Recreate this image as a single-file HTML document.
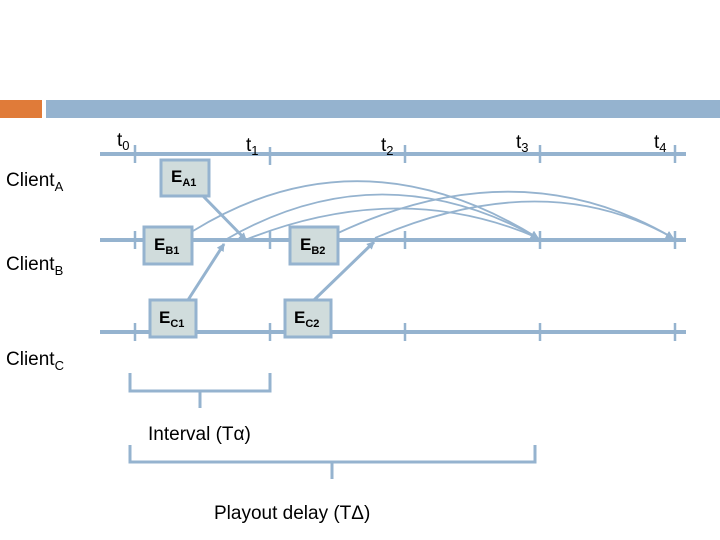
<!DOCTYPE html>
<html><head><meta charset="utf-8"><style>
body{margin:0;width:720px;height:540px;background:#fff;overflow:hidden;font-family:"Liberation Sans",sans-serif}
</style></head><body>
<svg width="720" height="540" xmlns="http://www.w3.org/2000/svg" style="position:absolute;left:0;top:0">
<defs><marker id="a" markerWidth="8" markerHeight="8" refX="7" refY="4" orient="auto" markerUnits="userSpaceOnUse"><path d="M0,0 L8,4 L0,8 z" fill="#95b3cf"/></marker></defs>
<rect x="0" y="100" width="42" height="18" fill="#e07b39"/>
<rect x="46" y="100" width="674" height="18" fill="#95b3cf"/>
<g stroke="#95b3cf" stroke-width="4"><line x1="100" y1="154" x2="686" y2="154"/><line x1="100" y1="240" x2="686" y2="240"/><line x1="100" y1="332" x2="686" y2="332"/></g>
<g stroke="#95b3cf" stroke-width="2.5">
<line x1="135" y1="145" x2="135" y2="163"/><line x1="270" y1="147" x2="270" y2="165"/><line x1="405" y1="145" x2="405" y2="163"/><line x1="540" y1="145" x2="540" y2="163"/><line x1="675" y1="145" x2="675" y2="163"/>
<line x1="135" y1="231" x2="135" y2="249"/><line x1="270" y1="231" x2="270" y2="249"/><line x1="405" y1="231" x2="405" y2="249"/><line x1="540" y1="231" x2="540" y2="249"/><line x1="675" y1="231" x2="675" y2="249"/>
<line x1="135" y1="323" x2="135" y2="341"/><line x1="270" y1="323" x2="270" y2="341"/><line x1="405" y1="323" x2="405" y2="341"/><line x1="540" y1="323" x2="540" y2="341"/><line x1="675" y1="323" x2="675" y2="341"/>
</g>
<g fill="none" stroke="#95b3cf" stroke-width="1.8" marker-end="url(#a)">
<path d="M193,231 Q360,128 538,238"/>
<path d="M225,240 Q380,150 538,238"/>
<path d="M245,240 Q400,178 538,238"/>
<path d="M338,233 Q520,148 673,238"/>
<path d="M375,238 Q545,165 673,238"/>
</g>
<g stroke="#95b3cf" stroke-width="3" marker-end="url(#a)">
<line x1="203" y1="196" x2="246" y2="240"/><line x1="188" y1="300" x2="224" y2="244"/><line x1="314" y1="300" x2="374" y2="242"/>
</g>
<g fill="#d0dcdc" stroke="#95b3cf" stroke-width="3">
<rect x="161" y="160" width="48" height="36"/><rect x="144" y="227" width="48" height="37"/><rect x="290" y="227" width="48" height="37"/><rect x="150" y="300" width="46" height="37"/><rect x="285" y="300" width="46" height="37"/>
</g>
<g font-family="Liberation Sans,sans-serif" font-weight="bold" font-size="17" fill="#000">
<text x="171" y="182">E<tspan font-size="11" dy="4">A1</tspan></text>
<text x="154" y="250">E<tspan font-size="11" dy="4">B1</tspan></text>
<text x="300" y="250">E<tspan font-size="11" dy="4">B2</tspan></text>
<text x="159" y="323">E<tspan font-size="11" dy="4">C1</tspan></text>
<text x="294" y="323">E<tspan font-size="11" dy="4">C2</tspan></text>
</g>
<g font-family="Liberation Sans,sans-serif" font-size="19" fill="#000">
<text x="117" y="146">t<tspan font-size="13" dy="4">0</tspan></text>
<text x="246" y="151">t<tspan font-size="13" dy="4">1</tspan></text>
<text x="381" y="151">t<tspan font-size="13" dy="4">2</tspan></text>
<text x="516" y="148">t<tspan font-size="13" dy="4">3</tspan></text>
<text x="654" y="148">t<tspan font-size="13" dy="4">4</tspan></text>
<text x="6" y="186">Client<tspan font-size="13" dy="5">A</tspan></text>
<text x="6" y="270">Client<tspan font-size="13" dy="5">B</tspan></text>
<text x="6" y="365">Client<tspan font-size="13" dy="5">C</tspan></text>
<text x="148" y="440">Interval (Tα)</text>
<text x="214" y="519">Playout delay (TΔ)</text>
</g>
<g fill="none" stroke="#95b3cf" stroke-width="3">
<path d="M130,373 V391 H270 V373"/><line x1="200" y1="391" x2="200" y2="408"/>
<path d="M130,445 V462 H535 V445"/><line x1="332" y1="462" x2="332" y2="479"/>
</g>
</svg>
</body></html>
